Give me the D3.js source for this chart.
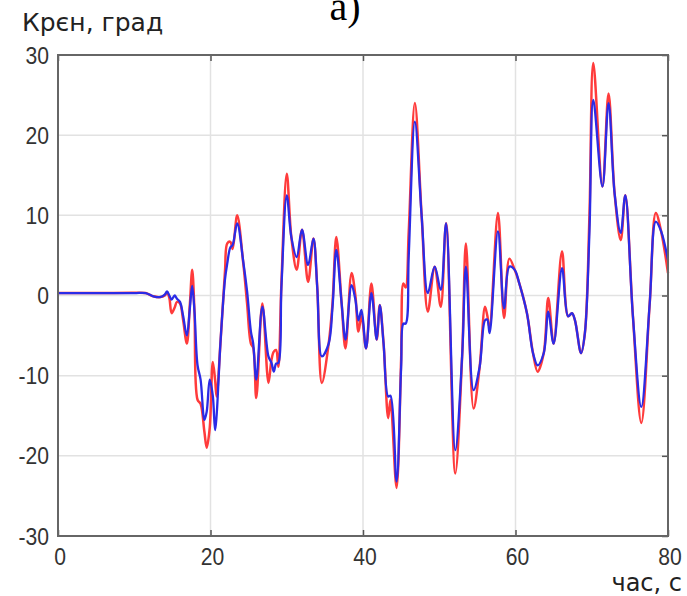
<!DOCTYPE html>
<html>
<head>
<meta charset="utf-8">
<script src="https://cdn.jsdelivr.net/npm/d3@7"></script>
<style>
  body { margin: 0; background: #fff; }
  svg { display: block; }
</style>
</head>
<body>
<div id="chart"></div>
<script>
// time, s
const time = [0, 5, 10, 11.5, 12.5, 13.4, 14.0, 14.3, 14.6, 14.9, 15.3, 15.6, 16.0, 16.4, 16.9, 17.3, 17.6, 17.9,
  18.3, 18.7, 19.2, 19.5, 19.9, 20.3, 20.6, 20.8, 21.3, 21.9, 22.2, 22.6, 22.9, 23.5, 24.3, 24.8, 25.3, 25.6,
  26.0, 26.8, 27.6, 28.0, 28.3, 28.6, 28.9, 29.3, 30.0, 30.6, 31.3, 32.0, 32.8, 33.5, 34.0, 34.6, 35.5, 36.0,
  36.5, 37.2, 37.7, 38.5, 39.0, 39.4, 39.8, 40.4, 41.1, 41.8, 42.2, 42.7, 43.3, 43.6, 44.4, 45.0, 45.3, 45.6,
  46.0, 46.8, 47.7, 48.5, 49.4, 50.2, 50.9, 52.1, 53.0, 53.5, 54.5, 55.3, 56.0, 56.3, 56.6, 57.7, 58.5, 59.2,
  59.9, 60.5, 61.5, 62.3, 62.9, 63.7, 64.3, 65.0, 66.1, 66.9, 67.4, 67.8, 68.6, 69.1, 69.7, 70.2, 71.4, 72.2,
  73.0, 73.8, 74.4, 75.4, 76.5, 77.6, 78.4, 79.1, 80]

const redRoll = [0.3, 0.3, 0.35, 0.3, -0.1, -0.2, 0.0, 0.4, -0.3, -2.2, -1.5, -0.8, -1.0, -3.0, -6.0, -1.0, 3.2, -2.0,
  -13.0, -13.5, -17.0, -19.0, -16.5, -8.3, -10.5, -12.6, -6.0, 3.0, 6.5, 6.7, 5.8, 10.0, 4.0, -1.0, -6.0, -6.5,
  -12.8, -1.0, -10.9, -8.0, -7.0, -6.8, -8.9, 1.5, 15.2, 7.3, 3.2, 8.2, 1.7, 7.1, 1.0, -10.9, -6.0, -1.0,
  7.3, -1.0, -6.6, 2.8, 0.0, -4.5, -2.5, -6.6, 1.5, -5.5, -1.2, -6.0, -15.3, -13.0, -24.0, -8.0, 1.5, 1.0,
  8.0, 24.0, 9.8, -2.0, 3.6, -1.4, 9.0, -22.2, -7.6, 6.5, -14.1, -8.9, -1.4, -2.5, -4.0, 10.3, -2.8, 4.6,
  3.2, 1.5, -2.2, -7.2, -9.5, -7.2, -0.3, -6.0, 5.5, -2.6, -2.2, -3.1, -7.2, -4.7, 10.0, 29.0, 13.6, 25.2,
  12.7, 6.9, 12.5, -2.6, -15.9, -1.0, 10.3, 8.0, 2.8]

const blueRoll = [0.3, 0.3, 0.3, 0.3, -0.1, -0.2, 0.1, 0.5, 0.0, -0.5, 0.0, -0.4, -0.8, -2.5, -5.0, -1.5, 1.2, -2.0,
  -8.7, -10.5, -15.5, -14.5, -10.5, -12.5, -16.8, -15.0, -6.0, 2.0, 4.0, 6.0, 6.3, 9.0, 4.2, 0.5, -4.5, -6.0,
  -10.5, -1.4, -7.6, -8.4, -9.5, -8.5, -8.4, 1.0, 12.5, 7.3, 4.8, 8.2, 3.8, 7.1, 1.0, -7.6, -6.0, -1.5,
  5.7, -1.0, -5.5, 1.3, -0.5, -3.1, -1.8, -6.6, 0.3, -5.5, -1.2, -6.0, -12.6, -12.5, -23.2, -9.0, -3.5, -3.5,
  5.0, 21.7, 9.8, 0.3, 3.6, 0.7, 9.0, -19.3, -7.6, 3.6, -11.8, -8.9, -3.1, -3.0, -4.7, 8.0, -1.6, 3.6,
  3.2, 1.5, -2.2, -7.2, -8.7, -7.2, -2.0, -6.0, 3.4, -2.6, -2.2, -3.1, -7.2, -4.7, 8.0, 24.4, 13.6, 24.0,
  12.7, 7.8, 12.5, -2.6, -13.9, -1.0, 9.2, 8.0, 4.4]

const xTicks = [0, 20, 40, 60, 80]
const yTicks = [-30, -20, -10, 0, 10, 20, 30]

const width = 687
const height = 596
const marginLeft = 58
const marginRight = 19
const marginTop = 55
const marginBottom = 60
const innerWidth = width - marginLeft - marginRight
const innerHeight = height - marginTop - marginBottom

const svg = d3.select('#chart')
              .append('svg')
              .attr('width', width)
              .attr('height', height)

const x = d3.scaleLinear()
            .domain([0, 80])
            .range([marginLeft, marginLeft + innerWidth])

const y = d3.scaleLinear()
            .domain([-30, 30])
            .range([marginTop + innerHeight, marginTop])

// grid
svg.append('g')
   .selectAll('line')
   .data(xTicks.slice(1, -1))
   .enter().append('line')
   .attr('x1', d => x(d)).attr('x2', d => x(d))
   .attr('y1', y(30)).attr('y2', y(-30))
   .attr('stroke', '#e2e2e2')
   .attr('stroke-width', 1.5)

svg.append('g')
   .selectAll('line')
   .data(yTicks.slice(1, -1))
   .enter().append('line')
   .attr('x1', x(0)).attr('x2', x(80))
   .attr('y1', d => y(d)).attr('y2', d => y(d))
   .attr('stroke', '#e2e2e2')
   .attr('stroke-width', 1.5)

// inner ticks on all four sides
const tickColor = '#555'
svg.append('g')
   .attr('transform', `translate(0, ${y(-30)})`)
   .call(d3.axisTop(x).tickValues(xTicks).tickSize(6).tickFormat(''))
   .call(g => g.select('.domain').remove())
   .selectAll('line').attr('stroke', tickColor).attr('stroke-width', 1.5)

svg.append('g')
   .attr('transform', `translate(0, ${y(30)})`)
   .call(d3.axisBottom(x).tickValues(xTicks).tickSize(6).tickFormat(''))
   .call(g => g.select('.domain').remove())
   .selectAll('line').attr('stroke', tickColor).attr('stroke-width', 1.5)

svg.append('g')
   .attr('transform', `translate(${x(80)}, 0)`)
   .call(d3.axisLeft(y).tickValues(yTicks).tickSize(6).tickFormat(''))
   .call(g => g.select('.domain').remove())
   .selectAll('line').attr('stroke', tickColor).attr('stroke-width', 1.5)

// series
const red = time.map((t, i) => ({t, v: redRoll[i]}))
const blue = time.map((t, i) => ({t, v: blueRoll[i]}))

const line = d3.line()
               .x(d => x(d.t))
               .y(d => y(d.v))
               .curve(d3.curveCatmullRom.alpha(0.5))

svg.append('path')
   .datum(red)
   .attr('d', line)
   .attr('fill', 'none')
   .attr('stroke', '#ff3b3b')
   .attr('stroke-width', 2.5)
   .attr('stroke-linejoin', 'round')

svg.append('path')
   .datum(blue)
   .attr('d', line)
   .attr('fill', 'none')
   .attr('stroke', '#2b2be6')
   .attr('stroke-width', 2.3)
   .attr('stroke-linejoin', 'round')

// frame
svg.append('rect')
   .attr('x', x(0)).attr('y', y(30))
   .attr('width', x(80) - x(0)).attr('height', y(-30) - y(30))
   .attr('fill', 'none')
   .attr('stroke', '#666')
   .attr('stroke-width', 2)

// tick labels (slightly narrow, tall digits)
const font = "'Liberation Sans', Arial, sans-serif"
const squeeze = 0.88
svg.append('g')
   .selectAll('text')
   .data(yTicks)
   .enter().append('text')
   .attr('transform', d => `translate(${marginLeft - 9}, ${y(d)}) scale(${squeeze}, 1)`)
   .attr('dy', '0.36em')
   .attr('text-anchor', 'end')
   .attr('font-family', font)
   .attr('font-size', 24)
   .attr('fill', '#333')
   .text(d => d)

svg.append('g')
   .selectAll('text')
   .data(xTicks)
   .enter().append('text')
   .attr('transform', d => `translate(${x(d) + 2}, ${y(-30) + 29}) scale(${squeeze}, 1)`)
   .attr('text-anchor', 'middle')
   .attr('font-family', font)
   .attr('font-size', 24)
   .attr('fill', '#333')
   .text(d => d)

const titleFont = "'DejaVu Sans', Verdana, sans-serif"
svg.append('text')
   .attr('x', 22).attr('y', 31)
   .attr('font-family', titleFont)
   .attr('font-size', 25)
   .attr('fill', '#222')
   .text('Крєн, град')

svg.append('text')
   .attr('x', 682).attr('y', 591)
   .attr('text-anchor', 'end')
   .attr('font-family', titleFont)
   .attr('font-size', 24)
   .attr('fill', '#222')
   .text('час, с')

svg.append('text')
   .attr('x', 345).attr('y', 20)
   .attr('text-anchor', 'middle')
   .attr('font-family', "'Liberation Serif', 'Times New Roman', serif")
   .attr('font-size', 40)
   .attr('fill', '#000')
   .text('а)')
</script>
</body>
</html>
